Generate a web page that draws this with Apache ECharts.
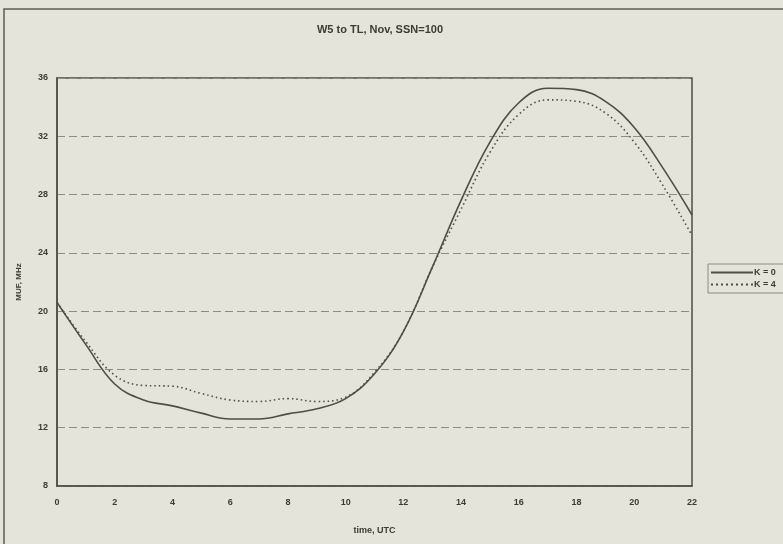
<!DOCTYPE html>
<html>
<head>
<meta charset="utf-8">
<script src="https://cdn.jsdelivr.net/npm/echarts@6/dist/echarts.min.js"></script>
<style>
  html, body { margin: 0; padding: 0; background: #e4e4da; }
  #c { width: 783px; height: 544px; }
</style>
</head>
<body>
<div id="c"></div>
<script>
const hours = [0,1,2,3,4,5,6,7,8,9,10,11,12,13,14,15,16,17,18,19,20,21,22];
const k0 = [20.6,17.7,15.0,13.9,13.5,13.0,12.6,12.6,12.95,13.3,14.0,15.7,18.6,23.0,27.6,31.6,34.3,35.3,35.2,34.4,32.6,29.8,26.6];
const k4 = [20.6,17.9,15.6,14.9,14.85,14.35,13.9,13.8,14.0,13.8,14.1,15.8,18.6,23.0,27.0,30.9,33.5,34.5,34.4,33.6,31.6,28.6,25.2];
const yTicks = [8,12,16,20,24,28,32,36];
const xTicks = [0,2,4,6,8,10,12,14,16,18,20,22];

const lineColor = '#4b5043';
const font = '"Liberation Sans", Arial, sans-serif';

let dotted = '';
for (let i = 0; i < 42; i += 5) dotted += 'M' + i + ',4 L' + (i + 2) + ',4 L' + (i + 2) + ',6 L' + i + ',6 Z ';

const chart = echarts.init(document.getElementById('c'), null, {renderer: 'canvas'});
chart.setOption({
  backgroundColor: '#e4e4da',
  animation: false,
  title: {
    text: 'W5 to TL, Nov, SSN=100',
    left: 375, top: 19, textAlign: 'center',
    textStyle: { fontFamily: font, fontSize: 11, fontWeight: 'bold', color: '#3a3d35' }
  },
  graphic: [{
    type: 'rect', shape: { x: 4, y: 9, width: 800, height: 600 },
    style: { fill: 'none', stroke: '#5a5d52', lineWidth: 1.5 }, silent: true
  }],
  legend: {
    orient: 'vertical', left: 708, top: 264,
    borderColor: '#8a8c82', borderWidth: 1, padding: [4, 10, 4, 3],
    itemWidth: 42, itemHeight: 10, itemGap: 3,
    textStyle: { fontFamily: font, fontSize: 9, fontWeight: 'bold', color: '#3a3d35', padding: [0,0,0,-4] },
    data: [
      { name: 'K = 0', icon: 'path://M0,4 L42,4 L42,6 L0,6 Z' },
      { name: 'K = 4', icon: 'path://' + dotted.trim() }
    ]
  },
  grid: { left: 57, right: 91, top: 78, bottom: 58, show: true, borderColor: '#4b5043', borderWidth: 1.5, backgroundColor: 'transparent' },
  xAxis: {
    type: 'value', min: 0, max: 22, interval: 2,
    name: 'time, UTC', nameLocation: 'middle', nameGap: 40,
    nameTextStyle: { fontFamily: font, fontSize: 9, fontWeight: 'bold', color: '#3a3d35' },
    axisLine: { show: true, lineStyle: { color: '#4b5043', width: 1.5 } },
    axisTick: { show: false },
    axisLabel: { fontFamily: font, fontSize: 9, fontWeight: 'bold', color: '#3a3d35', margin: 12,
      formatter: v => xTicks.includes(v) ? String(v) : '' },
    splitLine: { show: false }
  },
  yAxis: {
    type: 'value', min: 8, max: 36, interval: 4,
    name: 'MUF, MHz', nameLocation: 'middle', nameGap: 34,
    nameTextStyle: { fontFamily: font, fontSize: 8, fontWeight: 'bold', color: '#3a3d35' },
    axisLine: { show: true, lineStyle: { color: '#4b5043', width: 1.5 } },
    axisTick: { show: false },
    axisLabel: { fontFamily: font, fontSize: 9, fontWeight: 'bold', color: '#3a3d35', margin: 9,
      formatter: v => yTicks.includes(v) ? String(v) : '' },
    splitLine: { show: true, lineStyle: { color: '#8c8e84', width: 1, type: [8, 4] } }
  },
  series: [
    { name: 'K = 0', type: 'line', smooth: 0.4, showSymbol: false, symbol: 'none',
      data: hours.map((h, i) => [h, k0[i]]),
      lineStyle: { color: lineColor, width: 1.6, type: 'solid' }, itemStyle: { color: lineColor } },
    { name: 'K = 4', type: 'line', smooth: 0.4, showSymbol: false, symbol: 'none',
      data: hours.map((h, i) => [h, k4[i]]),
      lineStyle: { color: lineColor, width: 1.6, type: [1.5, 3] }, itemStyle: { color: lineColor } }
  ]
});
</script>
</body>
</html>
